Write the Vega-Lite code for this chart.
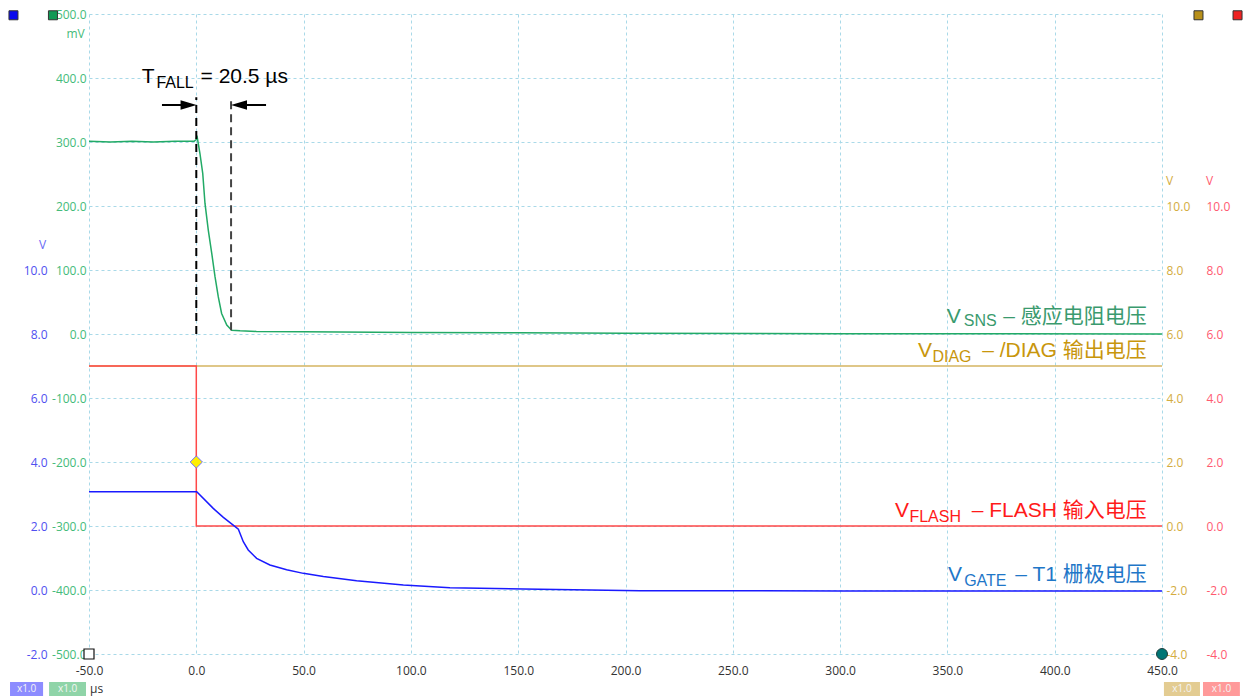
{
  "$schema": "https://vega.github.io/schema/vega-lite/v6.json",
  "width": 1073,
  "height": 640,
  "autosize": "none",
  "padding": {"left": 89, "top": 14, "right": 87, "bottom": 44},
  "background": "white",
  "data": {"values": [{}]},
  "config": {
    "view": {"stroke": null},
    "locale": {"number": {"decimal": ".", "thousands": ",", "grouping": [3], "currency": ["$", ""], "minus": "-"}},
    "axis": {"labelFont": "Open Sans", "labelFontSize": 12, "ticks": false, "domain": false, "grid": false, "gridColor": "#a9d9e8", "gridDash": [3, 3], "gridWidth": 1, "titleFont": "Open Sans", "titleFontSize": 12, "titleFontWeight": "normal", "titleAngle": 0, "titleAlign": "center", "titleBaseline": "middle"}
  },
  "datasets": {
    "vsns": [
      {"t": -50, "mv": 301}, {"t": -40, "mv": 300}, {"t": -30, "mv": 301}, {"t": -20, "mv": 300}, {"t": -10, "mv": 301},
      {"t": -1, "mv": 301}, {"t": 0, "mv": 304}, {"t": 0.3, "mv": 310}, {"t": 1, "mv": 296}, {"t": 1.7, "mv": 282},
      {"t": 3, "mv": 251}, {"t": 4.05, "mv": 204}, {"t": 5.6, "mv": 162}, {"t": 7.2, "mv": 126}, {"t": 8.7, "mv": 90},
      {"t": 10.25, "mv": 58}, {"t": 11.8, "mv": 32}, {"t": 14.2, "mv": 14}, {"t": 16.5, "mv": 6}, {"t": 20.4, "mv": 5},
      {"t": 28, "mv": 4}, {"t": 50, "mv": 3.5}, {"t": 100, "mv": 2.5}, {"t": 150, "mv": 2}, {"t": 200, "mv": 1},
      {"t": 300, "mv": 0.5}, {"t": 450, "mv": 0}
    ],
    "vgate": [
      {"t": -50, "v": 3.07}, {"t": 0.2, "v": 3.07}, {"t": 7.9, "v": 2.55}, {"t": 12.6, "v": 2.27}, {"t": 17.2, "v": 2.03},
      {"t": 19.6, "v": 1.9}, {"t": 21.9, "v": 1.51}, {"t": 24.2, "v": 1.25}, {"t": 28.1, "v": 0.99}, {"t": 34.3, "v": 0.78},
      {"t": 42.1, "v": 0.63}, {"t": 49.9, "v": 0.52}, {"t": 59.2, "v": 0.42}, {"t": 74.7, "v": 0.29}, {"t": 96.5, "v": 0.16},
      {"t": 118.2, "v": 0.07}, {"t": 152.4, "v": 0.03}, {"t": 183.5, "v": 0.0}, {"t": 206.8, "v": -0.02}, {"t": 300, "v": -0.03},
      {"t": 450, "v": -0.03}
    ],
    "vflash": [
      {"i": 0, "t": -50, "v": 5}, {"i": 1, "t": 0, "v": 5}, {"i": 2, "t": 0, "v": 0}, {"i": 3, "t": 450, "v": 0}
    ],
    "vdiag": [
      {"t": -50, "v": 5}, {"t": 450, "v": 5}
    ],
    "labels": [
      {"series": "TFALL", "part": "main", "t": -25.4, "mv": 392.2, "text": "T"},
      {"series": "TFALL", "part": "sub", "t": -18.6, "mv": 384.4, "text": "FALL"},
      {"series": "TFALL", "part": "tail", "t": 42.7, "mv": 392.2, "text": "= 20.5 µs"},
      {"series": "SNS", "part": "main", "t": 349.7, "mv": 16.7, "text": "V"},
      {"series": "SNS", "part": "sub", "t": 357.6, "mv": 12.5, "text": "SNS"},
      {"series": "SNS", "part": "tail", "t": 442.9, "mv": 16.7, "text": "– 感应电阻电压"},
      {"series": "DIAG", "part": "main", "t": 336.3, "mv": -35.5, "text": "V"},
      {"series": "DIAG", "part": "sub", "t": 343.0, "mv": -43.3, "text": "DIAG"},
      {"series": "DIAG", "part": "tail", "t": 442.9, "mv": -35.5, "text": "– /DIAG  输出电压"},
      {"series": "FLASH", "part": "main", "t": 325.6, "mv": -285.5, "text": "V"},
      {"series": "FLASH", "part": "sub", "t": 332.3, "mv": -293.3, "text": "FLASH"},
      {"series": "FLASH", "part": "tail", "t": 442.9, "mv": -285.5, "text": "– FLASH 输入电压"},
      {"series": "GATE", "part": "main", "t": 350.3, "mv": -385.5, "text": "V"},
      {"series": "GATE", "part": "sub", "t": 357.8, "mv": -393.8, "text": "GATE"},
      {"series": "GATE", "part": "tail", "t": 442.9, "mv": -385.5, "text": "– T1  栅极电压"}
    ]
  },
  "resolve": {"scale": {"y": "independent"}, "axis": {"y": "independent"}},
  "layer": [
    {
      "data": {"name": "vsns"},
      "mark": {"type": "line", "color": "#22aa66", "strokeWidth": 1.5},
      "encoding": {
        "x": {"field": "t", "type": "quantitative", "scale": {"domain": [-50, 450], "nice": false, "zero": false},
          "axis": {"values": [-50, 0, 50, 100, 150, 200, 250, 300, 350, 400, 450], "format": ".1f", "grid": true, "labelColor": "#333333", "labelPadding": 11, "title": null, "labelFlush": false}},
        "y": {"field": "mv", "type": "quantitative", "scale": {"domain": [-500, 500], "nice": false, "zero": false},
          "axis": {"orient": "left", "values": [-500, -400, -300, -200, -100, 0, 100, 200, 300, 400, 500], "format": ".1f", "grid": true, "labelColor": "#44bb7a", "labelPadding": 3, "title": "mV", "titleColor": "#44bb7a", "titleX": -14, "titleY": 19}}
      }
    },
    {
      "data": {"name": "vdiag"},
      "mark": {"type": "line", "color": "#d4b560", "strokeWidth": 1.5},
      "encoding": {
        "x": {"field": "t", "type": "quantitative"},
        "y": {"field": "v", "type": "quantitative", "scale": {"domain": [-4, 16], "nice": false, "zero": false},
          "axis": {"orient": "right", "values": [-4, -2, 0, 2, 4, 6, 8, 10], "format": ".1f", "labelColor": "#d4ac40", "labelPadding": 4, "title": "V", "titleColor": "#d4ac40", "titleX": 7, "titleY": 166}}
      }
    },
    {
      "data": {"name": "vflash"},
      "mark": {"type": "line", "color": "#ff4848", "strokeWidth": 1.5},
      "encoding": {
        "x": {"field": "t", "type": "quantitative"},
        "order": {"field": "i", "type": "quantitative"},
        "y": {"field": "v", "type": "quantitative", "scale": {"domain": [-4, 16], "nice": false, "zero": false},
          "axis": {"orient": "right", "offset": 40, "values": [-4, -2, 0, 2, 4, 6, 8, 10], "format": ".1f", "labelColor": "#ff5a70", "labelPadding": 4, "title": "V", "titleColor": "#ff5a70", "titleX": 7, "titleY": 166}}
      }
    },
    {
      "data": {"name": "vgate"},
      "mark": {"type": "line", "color": "#1a1aff", "strokeWidth": 1.5},
      "encoding": {
        "x": {"field": "t", "type": "quantitative"},
        "y": {"field": "v", "type": "quantitative", "scale": {"domain": [-2, 18], "nice": false, "zero": false},
          "axis": {"orient": "left", "offset": 39, "values": [-2, 0, 2, 4, 6, 8, 10], "format": ".1f", "labelColor": "#5050f0", "labelPadding": 3, "title": "V", "titleColor": "#6a6af5", "titleX": -8, "titleY": 230}}
      }
    },
    {
      "mark": {"type": "point", "shape": "diamond", "size": 150, "filled": true, "fill": "#ffee00", "stroke": "#7070ff", "strokeWidth": 1, "opacity": 1},
      "encoding": {
        "x": {"datum": 0, "type": "quantitative"},
        "y": {"datum": 2, "type": "quantitative", "scale": {"domain": [-4, 16]}, "axis": null}
      }
    },
    {
      "mark": {"type": "rule", "color": "#000000", "strokeWidth": 2, "strokeDash": [8, 5]},
      "encoding": {
        "x": {"datum": 0, "type": "quantitative"},
        "y": {"datum": 0, "type": "quantitative", "scale": {"domain": [-500, 500]}, "axis": null},
        "y2": {"datum": 370}
      }
    },
    {
      "mark": {"type": "rule", "color": "#444444", "strokeWidth": 2, "strokeDash": [8, 5]},
      "encoding": {
        "x": {"datum": 16.2, "type": "quantitative"},
        "y": {"datum": 6, "type": "quantitative", "scale": {"domain": [-500, 500]}, "axis": null},
        "y2": {"datum": 370}
      }
    },
    {
      "mark": {"type": "rule", "color": "#000000", "strokeWidth": 2},
      "encoding": {
        "x": {"datum": -16.0, "type": "quantitative"},
        "x2": {"datum": -4},
        "y": {"datum": 357.8, "type": "quantitative", "scale": {"domain": [-500, 500]}, "axis": null}
      }
    },
    {
      "mark": {"type": "rule", "color": "#000000", "strokeWidth": 2},
      "encoding": {
        "x": {"datum": 20, "type": "quantitative"},
        "x2": {"datum": 32.5},
        "y": {"datum": 357.8, "type": "quantitative", "scale": {"domain": [-500, 500]}, "axis": null}
      }
    },
    {
      "mark": {"type": "point", "shape": "M-1,-0.6L1,0L-1,0.6Z", "size": 256, "filled": true, "color": "#000000", "opacity": 1},
      "encoding": {
        "x": {"datum": -3.6, "type": "quantitative"},
        "y": {"datum": 357.8, "type": "quantitative", "scale": {"domain": [-500, 500]}, "axis": null}
      }
    },
    {
      "mark": {"type": "point", "shape": "M1,-0.6L-1,0L1,0.6Z", "size": 256, "filled": true, "color": "#000000", "opacity": 1},
      "encoding": {
        "x": {"datum": 19.9, "type": "quantitative"},
        "y": {"datum": 357.8, "type": "quantitative", "scale": {"domain": [-500, 500]}, "axis": null}
      }
    },
    {
      "data": {"name": "labels"},
      "transform": [{"filter": "datum.part === 'main'"}],
      "mark": {"type": "text", "font": "Liberation Sans, Noto Sans CJK SC", "fontSize": 21, "align": "left", "baseline": "alphabetic"},
      "encoding": {
        "x": {"field": "t", "type": "quantitative"},
        "y": {"field": "mv", "type": "quantitative", "scale": {"domain": [-500, 500]}, "axis": null},
        "text": {"field": "text"},
        "color": {"field": "series", "type": "nominal", "scale": {"domain": ["TFALL", "SNS", "DIAG", "FLASH", "GATE"], "range": ["#000000", "#3a9a6e", "#c8960c", "#ff1a1a", "#1f77c8"]}, "legend": null}
      }
    },
    {
      "data": {"name": "labels"},
      "transform": [{"filter": "datum.part === 'sub'"}],
      "mark": {"type": "text", "font": "Liberation Sans, Noto Sans CJK SC", "fontSize": 16, "align": "left", "baseline": "alphabetic"},
      "encoding": {
        "x": {"field": "t", "type": "quantitative"},
        "y": {"field": "mv", "type": "quantitative", "scale": {"domain": [-500, 500]}, "axis": null},
        "text": {"field": "text"},
        "color": {"field": "series", "type": "nominal", "scale": {"domain": ["TFALL", "SNS", "DIAG", "FLASH", "GATE"], "range": ["#000000", "#3a9a6e", "#c8960c", "#ff1a1a", "#1f77c8"]}, "legend": null}
      }
    },
    {
      "data": {"name": "labels"},
      "transform": [{"filter": "datum.part === 'tail'"}],
      "mark": {"type": "text", "font": "Liberation Sans, Noto Sans CJK SC", "fontSize": 21, "align": "right", "baseline": "alphabetic"},
      "encoding": {
        "x": {"field": "t", "type": "quantitative"},
        "y": {"field": "mv", "type": "quantitative", "scale": {"domain": [-500, 500]}, "axis": null},
        "text": {"field": "text"},
        "color": {"field": "series", "type": "nominal", "scale": {"domain": ["TFALL", "SNS", "DIAG", "FLASH", "GATE"], "range": ["#000000", "#3a9a6e", "#c8960c", "#ff1a1a", "#1f77c8"]}, "legend": null}
      }
    },
    {
      "mark": {"type": "point", "shape": "square", "size": 81, "filled": true, "fill": "#0a0aee", "stroke": "#333333", "strokeWidth": 1, "opacity": 1},
      "encoding": {"x": {"datum": -85.2, "type": "quantitative"}, "y": {"datum": 498, "type": "quantitative", "scale": {"domain": [-500, 500]}, "axis": null}}
    },
    {
      "mark": {"type": "point", "shape": "square", "size": 81, "filled": true, "fill": "#119955", "stroke": "#333333", "strokeWidth": 1, "opacity": 1},
      "encoding": {"x": {"datum": -66.8, "type": "quantitative"}, "y": {"datum": 498, "type": "quantitative", "scale": {"domain": [-500, 500]}, "axis": null}}
    },
    {
      "mark": {"type": "point", "shape": "square", "size": 81, "filled": true, "fill": "#b8901a", "stroke": "#333333", "strokeWidth": 1, "opacity": 1},
      "encoding": {"x": {"datum": 467.0, "type": "quantitative"}, "y": {"datum": 498, "type": "quantitative", "scale": {"domain": [-500, 500]}, "axis": null}}
    },
    {
      "mark": {"type": "point", "shape": "square", "size": 81, "filled": true, "fill": "#ee2222", "stroke": "#333333", "strokeWidth": 1, "opacity": 1},
      "encoding": {"x": {"datum": 485.2, "type": "quantitative"}, "y": {"datum": 498, "type": "quantitative", "scale": {"domain": [-500, 500]}, "axis": null}}
    },
    {
      "mark": {"type": "point", "shape": "square", "size": 100, "filled": true, "fill": "#ffffff", "stroke": "#111111", "strokeWidth": 1.2, "opacity": 1},
      "encoding": {"x": {"datum": -50, "type": "quantitative"}, "y": {"datum": -500, "type": "quantitative", "scale": {"domain": [-500, 500]}, "axis": null}}
    },
    {
      "mark": {"type": "point", "shape": "circle", "size": 120, "filled": true, "fill": "#007575", "stroke": "#1a3a3a", "strokeWidth": 1, "opacity": 1},
      "encoding": {"x": {"datum": 450, "type": "quantitative"}, "y": {"datum": -500, "type": "quantitative", "scale": {"domain": [-500, 500]}, "axis": null}}
    },
    {
      "mark": {"type": "rect", "color": "#8c8cff"},
      "encoding": {"x": {"datum": -86.8, "type": "quantitative"}, "x2": {"datum": -71.4}, "y": {"datum": -543.75, "type": "quantitative", "scale": {"domain": [-500, 500]}, "axis": null}, "y2": {"datum": -565.6}}
    },
    {
      "mark": {"type": "rect", "color": "#8fd4a8"},
      "encoding": {"x": {"datum": -68.6, "type": "quantitative"}, "x2": {"datum": -51.4}, "y": {"datum": -543.75, "type": "quantitative", "scale": {"domain": [-500, 500]}, "axis": null}, "y2": {"datum": -565.6}}
    },
    {
      "mark": {"type": "rect", "color": "#e3cc92"},
      "encoding": {"x": {"datum": 450.9, "type": "quantitative"}, "x2": {"datum": 467.7}, "y": {"datum": -543.75, "type": "quantitative", "scale": {"domain": [-500, 500]}, "axis": null}, "y2": {"datum": -565.6}}
    },
    {
      "mark": {"type": "rect", "color": "#ff9a9a"},
      "encoding": {"x": {"datum": 469.1, "type": "quantitative"}, "x2": {"datum": 486.3}, "y": {"datum": -543.75, "type": "quantitative", "scale": {"domain": [-500, 500]}, "axis": null}, "y2": {"datum": -565.6}}
    },
    {
      "data": {"values": [{"t": -79.1, "txt": "x1.0"}, {"t": -60.0, "txt": "x1.0"}, {"t": 459.3, "txt": "x1.0"}, {"t": 477.7, "txt": "x1.0"}]},
      "mark": {"type": "text", "font": "Open Sans", "fontSize": 10, "color": "#f4f4f4", "align": "center", "baseline": "middle"},
      "encoding": {"x": {"field": "t", "type": "quantitative"}, "y": {"datum": -554.7, "type": "quantitative", "scale": {"domain": [-500, 500]}, "axis": null}, "text": {"field": "txt"}}
    },
    {
      "mark": {"type": "text", "text": "µs", "font": "Open Sans", "fontSize": 12, "color": "#333333", "align": "left", "baseline": "middle"},
      "encoding": {"x": {"datum": -49.5, "type": "quantitative"}, "y": {"datum": -554.7, "type": "quantitative", "scale": {"domain": [-500, 500]}, "axis": null}}
    }
  ]
}
